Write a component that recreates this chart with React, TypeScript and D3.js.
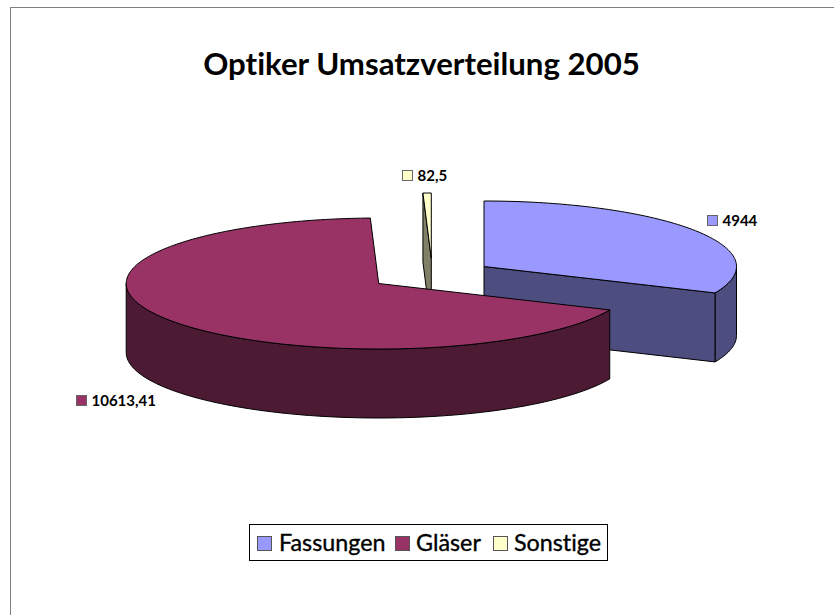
import React from "react";
import * as d3 from "d3";

const categories = ["Fassungen", "Gläser", "Sonstige"];
const values = [4944, 10613.41, 82.5];
const valueLabels = ["4944", "10613,41", "82,5"];
const topColors = ["#9999FF", "#993366", "#FFFFCC"];
const wallColors = ["#4D4D80", "#4D1A33", "#808066"];

const W = 834, H = 615;
const RX = 252.5, RY = 65.5, DEPTH = 69;
const centers: [number, number][] = [[484, 266.5], [378.7, 283.5], [431.3, 258.5]];
const labelPos: [number, number][] = [[707, 221], [76, 401], [402, 176]];
const legendSwatchX = [257.5, 395.5, 493.5];
const legendTextX = [279, 416, 514];
const drawOrder = [2, 0, 1];
const FONT = "Lato, 'Open Sans', sans-serif";

const pieGen = d3.pie<number>().sort(null).startAngle(0).endAngle(2 * Math.PI);
const arcs = pieGen(values);

const line = d3.line<[number, number]>().x(d => d[0]).y(d => d[1]);

function rim(i: number, a0: number, a1: number, dy = 0): [number, number][] {
  const [cx, cy] = centers[i];
  const n = Math.max(2, Math.ceil(Math.abs(a1 - a0) / 0.02));
  return d3.range(n + 1).map(k => {
    const a = a0 + ((a1 - a0) * k) / n;
    return [cx + RX * Math.sin(a), cy - RY * Math.cos(a) + dy] as [number, number];
  });
}

function face(a: [number, number], b: [number, number]) {
  return line([a, b, [b[0], b[1] + DEPTH], [a[0], a[1] + DEPTH]]) + "Z";
}

function Slice({ i }: { i: number }) {
  const { startAngle: s, endAngle: e } = arcs[i];
  const c = centers[i];
  const stroke = { stroke: "#000", strokeWidth: 1, strokeLinejoin: "round" as const };
  const walls: string[] = [];
  // Outer wall on the front half of the ellipse.
  const f0 = Math.max(s, Math.PI / 2), f1 = Math.min(e, (3 * Math.PI) / 2);
  if (f1 > f0) walls.push(line([...rim(i, f0, f1), ...rim(i, f1, f0, DEPTH)]) + "Z");
  // Cut faces that turn towards the viewer.
  if (e > Math.PI / 2 && e < Math.PI) walls.push(face(c, rim(i, e, e)[0]));
  if (s > (3 * Math.PI) / 2) walls.push(face(rim(i, s, s)[0], c));
  const top = line([c, ...rim(i, s, e)]) + "Z";
  return (
    <g>
      {walls.map((d, k) => (
        <path key={k} d={d} fill={wallColors[i]} {...stroke} />
      ))}
      <path d={top} fill={topColors[i]} {...stroke} />
    </g>
  );
}

export default function App() {
  return (
    <svg width={W} height={H} style={{ position: "fixed", left: 0, top: 0, background: "#fff", fontVariantLigatures: "none" }}>
      <rect x={10.5} y={7.5} width={W} height={H} fill="#fff" stroke="#808080" strokeWidth={1} />
      <text x={421.5} y={75} textAnchor="middle" fontFamily={FONT} fontWeight={700} fontSize={31.2} fill="#000">
        Optiker Umsatzverteilung 2005
      </text>
      {drawOrder.map(i => <Slice key={i} i={i} />)}
      {categories.map((_, i) => (
        <g key={i}>
          <rect x={labelPos[i][0] + 0.5} y={labelPos[i][1] - 5.5} width={10} height={10} fill={topColors[i]} stroke="#666" />
          <text x={labelPos[i][0] + 15.5} y={labelPos[i][1] + 5} fontFamily={FONT} fontWeight={700} fontSize={15} fill="#000">
            {valueLabels[i]}
          </text>
        </g>
      ))}
      <rect x={249.5} y={524.5} width={358} height={36} fill="#fff" stroke="#000" />
      {categories.map((name, i) => (
        <g key={name}>
          <rect x={legendSwatchX[i]} y={536.5} width={14} height={14} fill={topColors[i]} stroke="#555" />
          <text
            x={legendTextX[i]} y={551} fontFamily={FONT} fontWeight={400} fontSize={23.3}
            fill="#000" stroke="#000" strokeWidth={0.35}
          >
            {name}
          </text>
        </g>
      ))}
    </svg>
  );
}
